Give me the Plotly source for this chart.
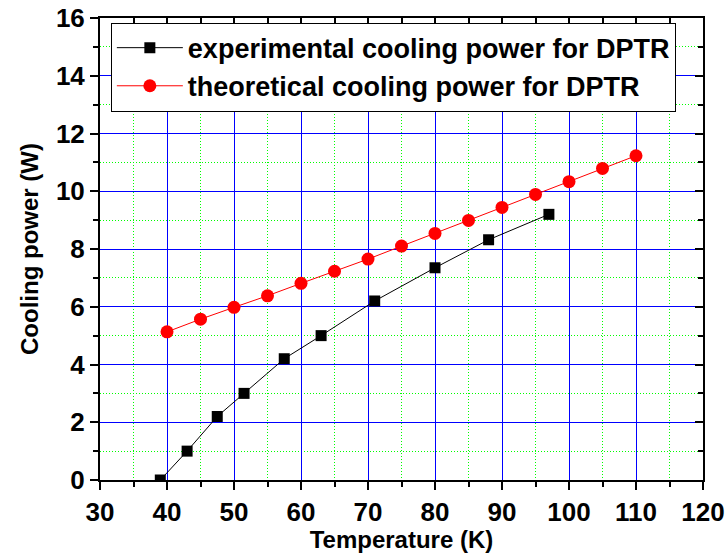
import plotly.graph_objects as go

# Data
exp_T = [39, 43, 47.5, 51.5, 57.5, 63, 71, 80, 88, 97]
exp_P = [0.0, 1.0, 2.2, 3.0, 4.2, 5.0, 6.2, 7.35, 8.32, 9.2]
theo_T = [40, 45, 50, 55, 60, 65, 70, 75, 80, 85, 90, 95, 100, 105, 110]
theo_P = [5.13, 5.57, 5.98, 6.38, 6.81, 7.23, 7.65, 8.1, 8.54, 8.99, 9.44, 9.89, 10.33, 10.79, 11.23]

x_range = [30, 120]
y_range = [0, 16]

FONT = "Arial, 'Liberation Sans', sans-serif"

fig = go.Figure()
fig.add_trace(go.Scatter(
    x=exp_T, y=exp_P, mode="lines+markers",
    name="experimental cooling power for DPTR",
    line=dict(color="black", width=1),
    marker=dict(symbol="square", size=11, color="black"),
))
fig.add_trace(go.Scatter(
    x=theo_T, y=theo_P, mode="lines+markers",
    name="theoretical cooling power for DPTR",
    line=dict(color="red", width=1),
    marker=dict(symbol="circle", size=13, color="red"),
))
# invisible trace to anchor the mirrored (top/right) axes
fig.add_trace(go.Scatter(x=[x_range[0]], y=[y_range[0]], xaxis="x2", yaxis="y2",
                         mode="markers", marker=dict(opacity=0), showlegend=False,
                         hoverinfo="skip"))

tickfont = dict(family=FONT, size=26, color="black", weight="bold")
titlefont = dict(family=FONT, size=24, color="black", weight="bold")

common = dict(showline=True, linecolor="black", linewidth=2, zeroline=False,
              tickcolor="black", tickwidth=2, ticklen=8, automargin=False)

minor_grid = dict(showgrid=True, gridcolor="#00FF00", griddash="1px,2px", gridwidth=1)

fig.update_layout(
    width=727, height=553,
    margin=dict(l=100, r=24, t=18, b=73, autoexpand=False),
    paper_bgcolor="white", plot_bgcolor="white",
    xaxis=dict(range=x_range, tick0=30, dtick=10, ticks="outside",
               showgrid=True, gridcolor="#0000FF", gridwidth=1,
               tickfont=tickfont,
               title=dict(text="Temperature (K)", font=titlefont, standoff=4),
               minor=dict(dtick=5, ticks="outside", ticklen=5, tickwidth=1.5,
                          tickcolor="black", **minor_grid),
               **common),
    yaxis=dict(range=y_range, tick0=0, dtick=2, ticks="outside",
               showgrid=True, gridcolor="#0000FF", gridwidth=1,
               tickfont=tickfont,
               title=dict(text="Cooling power (W)", font=titlefont, standoff=10),
               minor=dict(dtick=1, ticks="outside", ticklen=5, tickwidth=1.5,
                          tickcolor="black", **minor_grid),
               **common),
    xaxis2=dict(range=x_range, overlaying="x", side="top", anchor="y",
                tick0=30, dtick=10, ticks="inside", showticklabels=False,
                showgrid=False,
                minor=dict(dtick=5, ticks="inside", ticklen=5, tickwidth=1.5,
                           tickcolor="black", showgrid=False),
                **common),
    yaxis2=dict(range=y_range, overlaying="y", side="right", anchor="x",
                tick0=0, dtick=2, ticks="inside", showticklabels=False,
                showgrid=False,
                minor=dict(dtick=1, ticks="inside", ticklen=5, tickwidth=1.5,
                           tickcolor="black", showgrid=False),
                **common),
    legend=dict(x=0.018, y=0.99, xanchor="left", yanchor="top",
                bgcolor="white", bordercolor="black", borderwidth=1,
                font=dict(family=FONT, size=27, color="black", weight="bold"),
                itemwidth=66, tracegroupgap=0),
    showlegend=True,
)

fig.write_html("out.html")
